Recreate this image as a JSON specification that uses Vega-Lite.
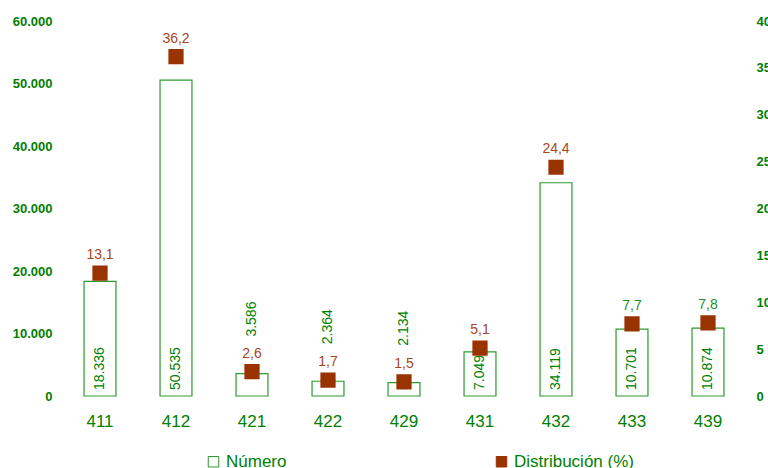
{
  "$schema": "https://vega.github.io/schema/vega-lite/v6.json",
  "width": 684,
  "height": 375,
  "autosize": {"type": "none"},
  "padding": {"left": 62, "top": 21, "right": 22, "bottom": 72},
  "config": {
    "locale": {"number": {"decimal": ",", "thousands": ".", "grouping": [3], "currency": ["", " €"]}},
    "view": {"stroke": null},
    "font": "Liberation Sans",
    "axis": {"grid": false, "domain": false, "ticks": false, "title": null, "labelColor": "#008000", "labelFont": "Liberation Sans"},
    "legend": {"labelFont": "Liberation Sans"}
  },
  "data": {
    "values": [
      {"cat": "411", "n": 18336, "pct": 13.1},
      {"cat": "412", "n": 50535, "pct": 36.2},
      {"cat": "421", "n": 3586, "pct": 2.6},
      {"cat": "422", "n": 2364, "pct": 1.7},
      {"cat": "429", "n": 2134, "pct": 1.5},
      {"cat": "431", "n": 7049, "pct": 5.1},
      {"cat": "432", "n": 34119, "pct": 24.4},
      {"cat": "433", "n": 10701, "pct": 7.7},
      {"cat": "439", "n": 10874, "pct": 7.8}
    ]
  },
  "encoding": {
    "x": {
      "field": "cat", "type": "nominal", "sort": null,
      "scale": {"paddingInner": 0.58, "paddingOuter": 0.29},
      "axis": {"labelAngle": 0, "labelFontSize": 17, "labelPadding": 17, "labelColor": "#008000"}
    }
  },
  "layer": [
    {
      "layer": [
        {
          "mark": {"type": "bar", "strokeWidth": 1.2},
          "encoding": {
            "y": {
              "field": "n", "type": "quantitative",
              "scale": {"domain": [0, 60000]},
              "axis": {"orient": "left", "values": [0, 10000, 20000, 30000, 40000, 50000, 60000], "format": ",.0f", "labelFontSize": 13, "labelFontWeight": "bold", "labelPadding": 10}
            },
            "fill": {
              "datum": "Número",
              "scale": {"domain": ["Número", "Distribución (%)"], "range": ["#ffffff", "#993300"]},
              "legend": {
                "title": null, "orient": "none", "direction": "horizontal",
                "legendX": 143, "legendY": 432,
                "symbolType": "square", "symbolSize": 110, "symbolStrokeWidth": 1,
                "labelFontSize": 17, "labelColor": "#008000", "labelOffset": 4,
                "columnPadding": 206
              }
            },
            "stroke": {
              "datum": "Número",
              "scale": {"domain": ["Número", "Distribución (%)"], "range": ["#2e9a2e", "#993300"]},
              "legend": {
                "title": null, "orient": "none", "direction": "horizontal",
                "legendX": 143, "legendY": 432,
                "symbolType": "square", "symbolSize": 110, "symbolStrokeWidth": 1,
                "labelFontSize": 17, "labelColor": "#008000", "labelOffset": 4,
                "columnPadding": 206
              }
            }
          }
        },
        {
          "transform": [{"filter": "datum.n >= 5000"}],
          "mark": {"type": "text", "angle": 270, "align": "left", "baseline": "middle", "dx": 6, "fontSize": 14, "color": "#008000"},
          "encoding": {
            "y": {"datum": 0, "type": "quantitative"},
            "text": {"field": "n", "type": "quantitative", "format": ",.0f"}
          }
        },
        {
          "transform": [{"filter": "datum.n < 5000"}],
          "mark": {"type": "text", "angle": 270, "align": "left", "baseline": "middle", "dx": 37, "fontSize": 14, "color": "#008000"},
          "encoding": {
            "y": {"field": "n", "type": "quantitative"},
            "text": {"field": "n", "type": "quantitative", "format": ",.0f"}
          }
        }
      ]
    },
    {
      "layer": [
        {
          "mark": {"type": "point", "shape": "square", "filled": true, "size": 175, "opacity": 1},
          "encoding": {
            "y": {
              "field": "pct", "type": "quantitative",
              "scale": {"domain": [0, 40]},
              "axis": {"orient": "right", "values": [0, 5, 10, 15, 20, 25, 30, 35, 40], "labelFontSize": 13, "labelFontWeight": "bold", "labelPadding": 10}
            },
            "fill": {"datum": "Distribución (%)"},
            "stroke": {"datum": "Distribución (%)"}
          }
        },
        {
          "mark": {"type": "text", "align": "center", "baseline": "alphabetic", "dy": -14, "fontSize": 14},
          "encoding": {
            "y": {"field": "pct", "type": "quantitative"},
            "text": {"field": "pct", "type": "quantitative", "format": ".1f"},
            "color": {
              "condition": {"test": "datum.cat == '433' || datum.cat == '439'", "value": "#1f8f1f"},
              "value": "#A8461C"
            }
          }
        }
      ]
    }
  ],
  "resolve": {"scale": {"y": "independent"}}
}
